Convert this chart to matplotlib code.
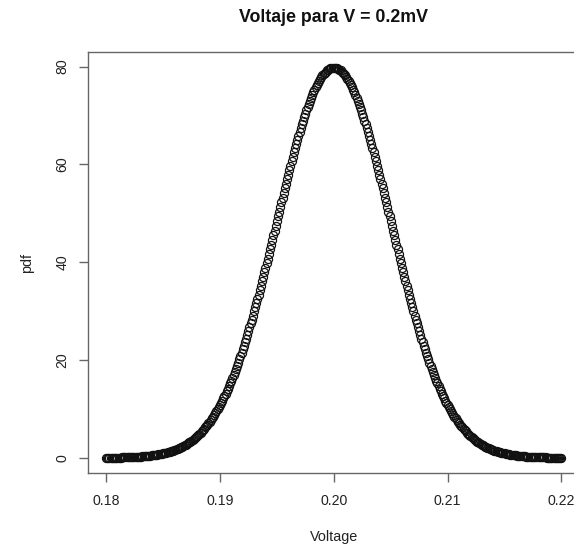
import numpy as np
import matplotlib
matplotlib.use("Agg")
import matplotlib.pyplot as plt

plt.rcParams['font.family'] = ['Liberation Sans', 'DejaVu Sans']

# pdf values, 401 samples from 0.18 to 0.22
pdf = [
    0.03, 0.03, 0.03, 0.03, 0.04, 0.04, 0.04, 0.05, 0.05, 0.05,
    0.06, 0.06, 0.07, 0.07, 0.08, 0.08, 0.09, 0.10, 0.11, 0.11,
    0.12, 0.13, 0.14, 0.15, 0.16, 0.17, 0.19, 0.20, 0.21, 0.23,
    0.25, 0.26, 0.28, 0.30, 0.32, 0.34, 0.37, 0.39, 0.42, 0.45,
    0.48, 0.51, 0.54, 0.58, 0.61, 0.65, 0.70, 0.74, 0.79, 0.83,
    0.89, 0.94, 1.00, 1.06, 1.12, 1.19, 1.26, 1.34, 1.41, 1.50,
    1.58, 1.67, 1.77, 1.87, 1.97, 2.08, 2.20, 2.32, 2.45, 2.58,
    2.72, 2.86, 3.01, 3.17, 3.33, 3.51, 3.68, 3.87, 4.07, 4.27,
    4.48, 4.70, 4.93, 5.16, 5.41, 5.67, 5.93, 6.21, 6.49, 6.79,
    7.09, 7.41, 7.74, 8.08, 8.43, 8.80, 9.17, 9.56, 9.96, 10.37,
    10.80, 11.24, 11.69, 12.15, 12.63, 13.12, 13.63, 14.15, 14.68, 15.23,
    15.79, 16.37, 16.96, 17.56, 18.18, 18.81, 19.46, 20.12, 20.79, 21.48,
    22.18, 22.90, 23.63, 24.38, 25.13, 25.90, 26.69, 27.48, 28.29, 29.11,
    29.95, 30.79, 31.64, 32.51, 33.39, 34.27, 35.17, 36.07, 36.99, 37.91,
    38.84, 39.77, 40.71, 41.66, 42.61, 43.57, 44.53, 45.49, 46.46, 47.43,
    48.39, 49.36, 50.33, 51.29, 52.26, 53.22, 54.17, 55.12, 56.07, 57.01,
    57.94, 58.86, 59.77, 60.68, 61.57, 62.45, 63.32, 64.17, 65.01, 65.84,
    66.64, 67.44, 68.21, 68.96, 69.70, 70.41, 71.11, 71.78, 72.43, 73.05,
    73.65, 74.23, 74.78, 75.31, 75.81, 76.28, 76.72, 77.14, 77.52, 77.88,
    78.21, 78.51, 78.77, 79.01, 79.22, 79.39, 79.53, 79.65, 79.72, 79.77,
    79.79,
    79.77, 79.72, 79.65, 79.53, 79.39, 79.22, 79.01, 78.77, 78.51, 78.21,
    77.88, 77.52, 77.14, 76.72, 76.28, 75.81, 75.31, 74.78, 74.23, 73.65,
    73.05, 72.43, 71.78, 71.11, 70.41, 69.70, 68.96, 68.21, 67.44, 66.64,
    65.84, 65.01, 64.17, 63.32, 62.45, 61.57, 60.68, 59.77, 58.86, 57.94,
    57.01, 56.07, 55.12, 54.17, 53.22, 52.26, 51.29, 50.33, 49.36, 48.39,
    47.43, 46.46, 45.49, 44.53, 43.57, 42.61, 41.66, 40.71, 39.77, 38.84,
    37.91, 36.99, 36.07, 35.17, 34.27, 33.39, 32.51, 31.64, 30.79, 29.95,
    29.11, 28.29, 27.48, 26.69, 25.90, 25.13, 24.38, 23.63, 22.90, 22.18,
    21.48, 20.79, 20.12, 19.46, 18.81, 18.18, 17.56, 16.96, 16.37, 15.79,
    15.23, 14.68, 14.15, 13.63, 13.12, 12.63, 12.15, 11.69, 11.24, 10.80,
    10.37, 9.96, 9.56, 9.17, 8.80, 8.43, 8.08, 7.74, 7.41, 7.09,
    6.79, 6.49, 6.21, 5.93, 5.67, 5.41, 5.16, 4.93, 4.70, 4.48,
    4.27, 4.07, 3.87, 3.68, 3.51, 3.33, 3.17, 3.01, 2.86, 2.72,
    2.58, 2.45, 2.32, 2.20, 2.08, 1.97, 1.87, 1.77, 1.67, 1.58,
    1.50, 1.41, 1.34, 1.26, 1.19, 1.12, 1.06, 1.00, 0.94, 0.89,
    0.83, 0.79, 0.74, 0.70, 0.65, 0.61, 0.58, 0.54, 0.51, 0.48,
    0.45, 0.42, 0.39, 0.37, 0.34, 0.32, 0.30, 0.28, 0.26, 0.25,
    0.23, 0.21, 0.20, 0.19, 0.17, 0.16, 0.15, 0.14, 0.13, 0.12,
    0.11, 0.11, 0.10, 0.09, 0.08, 0.08, 0.07, 0.07, 0.06, 0.06,
    0.05, 0.05, 0.05, 0.04, 0.04, 0.04, 0.03, 0.03, 0.03, 0.03,
]
voltage = np.linspace(0.18, 0.22, len(pdf))  # sample grid

xticks = [0.18, 0.19, 0.20, 0.21, 0.22]
xticklabels = ["0.18", "0.19", "0.20", "0.21", "0.22"]
yticks = [0, 20, 40, 60, 80]
yticklabels = ["0", "20", "40", "60", "80"]

W, H = 574, 545
fig = plt.figure(figsize=(W / 100, H / 100), dpi=100)
# plot region in pixels; right edge runs past the image like the original
left, right, top, bottom = 87.8, 579.7, 52.1, 473.3
ax = fig.add_axes([left / W, (H - bottom) / H, (right - left) / W, (bottom - top) / H])

ax.plot(voltage, pdf, linestyle='none', marker='o', markersize=5.8,
        markerfacecolor='none', markeredgecolor='#111111', markeredgewidth=0.9)

# R style 4% padding
xpad = 0.04 * (max(voltage) - min(voltage))
ypad = 0.04 * (max(pdf) - min(pdf))
ax.set_xlim(min(voltage) - xpad, max(voltage) + xpad)
ax.set_ylim(min(pdf) - ypad, max(pdf) + ypad)

ax.set_xticks(xticks)
ax.set_xticklabels(xticklabels)
ax.set_yticks(yticks)
ax.set_yticklabels(yticklabels, rotation=90, va='center')

gray = '#666666'
for s in ax.spines.values():
    s.set_color(gray)
    s.set_linewidth(1.0)
ax.tick_params(axis='both', direction='out', length=6.5, width=1.0, color=gray,
               labelsize=10.2, labelcolor='#222222')
ax.tick_params(axis='x', pad=8.5)
ax.tick_params(axis='y', pad=6.5)

fig.text(((left + right) / 2) / W, (H - 22) / H, "Voltaje para V = 0.2mV",
         ha='center', va='baseline', fontsize=12.8, fontweight='bold', color='#111111')
fig.text(((left + right) / 2) / W, (H - 541) / H, "Voltage",
         ha='center', va='baseline', fontsize=10.4, color='#222222')
fig.text(26.7 / W, (H - (top + bottom) / 2) / H, "pdf", rotation=90,
         ha='center', va='center', fontsize=10.4, color='#222222')

fig.savefig("out.png", dpi=100)
